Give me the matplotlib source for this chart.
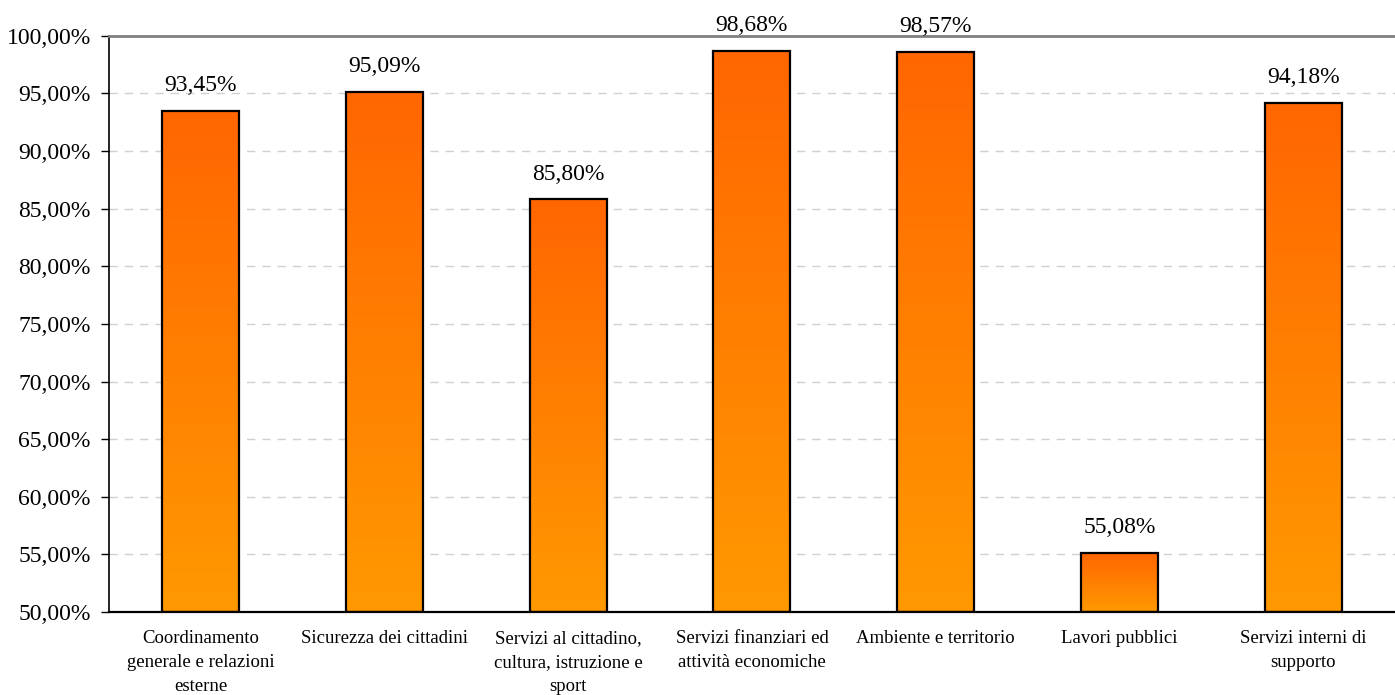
import numpy as np
import matplotlib.pyplot as plt
from matplotlib.colors import LinearSegmentedColormap
from matplotlib.ticker import FuncFormatter

categories = [
    "Coordinamento\ngenerale e relazioni\nesterne",
    "Sicurezza dei cittadini",
    "Servizi al cittadino,\ncultura, istruzione e\nsport",
    "Servizi finanziari ed\nattività economiche",
    "Ambiente e territorio",
    "Lavori pubblici",
    "Servizi interni di\nsupporto",
]
values = [93.45, 95.09, 85.80, 98.68, 98.57, 55.08, 94.18]
value_labels = ["93,45%", "95,09%", "85,80%", "98,68%", "98,57%", "55,08%", "94,18%"]

plt.rcParams['font.family'] = ['Liberation Serif', 'DejaVu Serif']

fig = plt.figure(figsize=(13.95, 6.95), dpi=100)
ax = fig.add_axes([0.078, 0.1194, 0.922, 0.829])

ymin, ymax = 50, 100
x = np.arange(len(categories))
width = 0.42

# gradiente arancio: scuro in alto, chiaro in basso
cmap = LinearSegmentedColormap.from_list("arancio", ["#FF9900", "#FF6600"])
grad = np.linspace(0, 1, 256).reshape(-1, 1)

bars = ax.bar(x, np.array(values) - ymin, width, bottom=ymin,
              facecolor='none', edgecolor='black', linewidth=1.6, zorder=3)
for b in bars:
    x0, y0 = b.get_x(), b.get_y()
    im = ax.imshow(grad, cmap=cmap, origin='lower', aspect='auto',
                   extent=[x0, x0 + b.get_width(), y0, y0 + b.get_height()],
                   zorder=2)
    im.set_clip_path(b)

for xi, v, lab in zip(x, values, value_labels):
    ax.text(xi, v + 1.3, lab, ha='center', va='bottom', fontsize=17, clip_on=False)

ax.set_xlim(-0.5, len(categories) - 0.5)
ax.set_ylim(ymin, ymax)
ax.set_yticks(np.arange(50, 101, 5))
ax.yaxis.set_major_formatter(FuncFormatter(lambda v, p: f"{v:.2f}".replace('.', ',') + "%"))
ax.tick_params(axis='y', labelsize=17, length=6, width=1, direction='out', pad=7)

ax.set_xticks(x)
ax.set_xticklabels(categories, fontsize=13.5, linespacing=1.52)
ax.tick_params(axis='x', length=0, pad=13)

for yv in np.arange(55, 100, 5):
    ax.axhline(yv, color='#d0d0d0', lw=1, ls=(0, (6, 5)), zorder=1)

ax.spines['right'].set_visible(False)
ax.spines['top'].set_color('#808080')
ax.spines['top'].set_linewidth(2)
ax.spines['left'].set_linewidth(1.2)
ax.spines['bottom'].set_linewidth(1.6)

fig.savefig("out.png", dpi=100)
